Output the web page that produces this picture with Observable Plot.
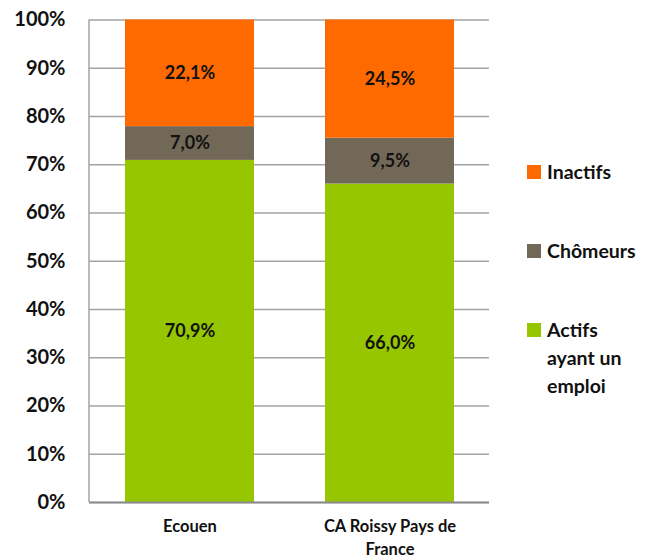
<!DOCTYPE html>
<html><head><meta charset="utf-8">
<script src="https://cdn.jsdelivr.net/npm/d3@7"></script>
<script src="https://cdn.jsdelivr.net/npm/@observablehq/plot@0.6"></script>
<style>
body{margin:0;background:#fff;font-family:Lato,"Noto Sans",sans-serif;}
#wrap{position:relative;width:650px;height:558px;}
#legend{position:absolute;left:527px;top:0;font-weight:700;font-size:19.5px;color:#111;}
.item{position:absolute;left:0;display:flex;align-items:flex-start;width:123px;line-height:28px;}
.sw{width:14px;height:14px;margin-top:7px;margin-right:6px;flex:none;}
</style></head>
<body><div id="wrap"><div id="chart"></div><div id="legend"></div></div>
<script>
const categories = ["Ecouen", "CA Roissy Pays de France"];
const categoryLabels = ["Ecouen", "CA Roissy Pays de\nFrance"];
const series = ["Actifs ayant un emploi", "Chômeurs", "Inactifs"];
const actifs = [70.9, 66.0];
const chomeurs = [7.0, 9.5];
const inactifs = [22.1, 24.5];
const colors = ["#95c600", "#716858", "#ff6a00"];
const legendOrder = ["Inactifs", "Chômeurs", "Actifs ayant un emploi"];
const legendTops = [158, 237, 316];
const yTicks = [0,10,20,30,40,50,60,70,80,90,100];

const values = [actifs, chomeurs, inactifs];
const data = [];
series.forEach((s, si) => categories.forEach((c, ci) => data.push({cat: c, serie: s, value: values[si][ci]})));
const fmt = v => v.toFixed(1).replace(".", ",") + "%";

const chart = Plot.plot({
  width: 650, height: 558,
  marginLeft: 89, marginRight: 161, marginTop: 19.5, marginBottom: 56,
  style: {fontFamily: "Lato, 'Noto Sans', sans-serif", fontWeight: 700, color: "#111", background: "#fff"},
  x: {domain: categories, paddingInner: 0.355, paddingOuter: 0.1775, axis: null},
  y: {domain: [0, 100], axis: null},
  color: {domain: series, range: colors},
  marks: [
    Plot.ruleY(yTicks, {y: d => d, stroke: "#a3a3a3", strokeWidth: 1.5}),
    Plot.barY(data, Plot.stackY({x: "cat", y: "value", fill: "serie", order: series})),
    Plot.text(data, Plot.stackY({x: "cat", y: "value", z: "serie", order: series, text: d => fmt(d.value), fill: "#111", fontSize: 18, fontWeight: 700})),
    Plot.ruleY([0], {stroke: "#8c8c8c", strokeWidth: 2}),
    Plot.axisY({ticks: yTicks, tickFormat: d => d + "%", tickSize: 0, tickPadding: 24, fontSize: 20, fontWeight: 700, label: null}),
    Plot.axisX({tickFormat: d => categoryLabels[categories.indexOf(d)], tickSize: 0, tickPadding: 14, fontSize: 16.5, fontWeight: 700, label: null, lineHeight: 1.35})
  ]
});
const ln = document.createElementNS("http://www.w3.org/2000/svg", "line");
ln.setAttribute("x1", 89); ln.setAttribute("x2", 89); ln.setAttribute("y1", 19.5); ln.setAttribute("y2", 502);
ln.setAttribute("stroke", "#a3a3a3"); ln.setAttribute("stroke-width", 1.5);
chart.insertBefore(ln, chart.firstChild.nextSibling);
document.getElementById("chart").appendChild(chart);

const leg = document.getElementById("legend");
legendOrder.forEach((name, i) => {
  const d = document.createElement("div");
  d.className = "item";
  d.style.top = legendTops[i] + "px";
  const sw = document.createElement("span");
  sw.className = "sw";
  sw.style.background = colors[series.indexOf(name)];
  const t = document.createElement("span");
  t.textContent = name;
  t.style.width = "95px";
  d.appendChild(sw); d.appendChild(t);
  leg.appendChild(d);
});
</script></body></html>
